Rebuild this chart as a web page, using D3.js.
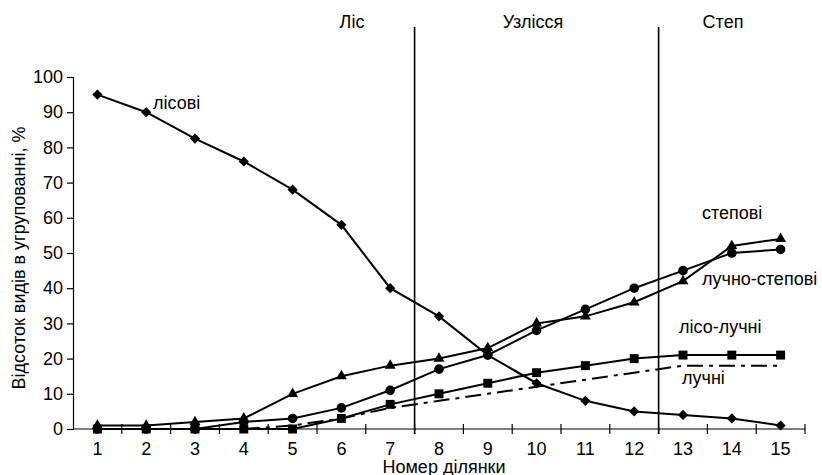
<!DOCTYPE html>
<html>
<head>
<meta charset="utf-8">
<title>Відсоток видів</title>
<style>
  body { margin: 0; background: #fff; }
  svg text { font-family: Arial, "Liberation Sans", sans-serif; fill: #000; }
</style>
</head>
<body>
<svg width="822" height="475"></svg>
<script src="https://d3js.org/d3.v7.min.js"></script>
<script>

// ділянки 1..15
var plots = [1, 2, 3, 4, 5, 6, 7, 8, 9, 10, 11, 12, 13, 14, 15];
var yTicks = [0, 10, 20, 30, 40, 50, 60, 70, 80, 90, 100];

// values, %
var lisovi      = [95, 90, 82.5, 76, 68, 58, 40, 32, 21, 13, 8, 5, 4, 3, 1];
var stepovi     = [0, 0, 0, 2, 3, 6, 11, 17, 21, 28, 34, 40, 45, 50, 51];
var luchnoStep  = [1, 1, 2, 3, 10, 15, 18, 20, 23, 30, 32, 36, 42, 52, 54];
var lisoLuchni  = [0, 0, 0, 0, 0, 3, 7, 10, 13, 16, 18, 20, 21, 21, 21];
var luchni      = [0, 0, 0, 0, 1, 3, 6, 8, 10, 12, 14, 16, 18, 18, 18];

// zones, split after plot 7 and after plot 12
var zones = ["Ліс", "Узлісся", "Степ"];
var zoneBreaks = [7, 12];

var svg = d3.select("svg"),
    m = {left: 73, right: 805, top: 77, bottom: 429},
    fs = 18;

var x = d3.scaleBand()
    .domain(plots)
    .range([m.left, m.right]);

var y = d3.scaleLinear()
    .domain([0, 100])
    .range([m.bottom, m.top]);

var cx = function(p) { return x(p) + x.bandwidth() / 2; };

// y axis
var gy = svg.append("g")
    .attr("transform", "translate(" + m.left + ",0)")
    .call(d3.axisLeft(y).tickValues(yTicks).tickSize(6).tickPadding(4));
gy.select(".domain").attr("stroke", "#000").attr("stroke-width", 1.2);
gy.selectAll(".tick line").attr("stroke", "#000").attr("stroke-width", 1.2);
gy.selectAll(".tick text").attr("font-size", fs).attr("font-family", null);

// x axis: ticks sit on band borders and cross the axis line
var gx = svg.append("g")
    .attr("transform", "translate(0," + m.bottom + ")");
gx.append("line")
    .attr("x1", m.left).attr("x2", m.right)
    .attr("stroke", "#000").attr("stroke-width", 1.2);
gx.selectAll(".bt")
    .data(plots)
  .enter().append("line")
    .attr("x1", function(p) { return x(p) + x.bandwidth(); })
    .attr("x2", function(p) { return x(p) + x.bandwidth(); })
    .attr("y1", -5).attr("y2", 5)
    .attr("stroke", "#000").attr("stroke-width", 1.2);
gx.selectAll(".lbl")
    .data(plots)
  .enter().append("text")
    .attr("x", cx)
    .attr("y", 26)
    .attr("text-anchor", "middle")
    .attr("font-size", fs)
    .text(function(p) { return p; });

// zone separators
svg.selectAll(".zb")
    .data(zoneBreaks)
  .enter().append("line")
    .attr("x1", function(p) { return x(p) + x.bandwidth(); })
    .attr("x2", function(p) { return x(p) + x.bandwidth(); })
    .attr("y1", 27).attr("y2", m.bottom + 5)
    .attr("stroke", "#000").attr("stroke-width", 1.6);

var zoneX = [352, 533, 723];
svg.selectAll(".zt")
    .data(zones)
  .enter().append("text")
    .attr("x", function(d, i) { return zoneX[i]; })
    .attr("y", 28)
    .attr("text-anchor", "middle")
    .attr("font-size", fs)
    .text(function(d) { return d; });

// series
var series = [
  {name: "лісові", values: lisovi, sym: "diamond", from: 0},
  {name: "лучні", values: luchni, sym: null, from: 3, dash: "16,6,4,6"},
  {name: "лісо-лучні", values: lisoLuchni, sym: "square", from: 0},
  {name: "степові", values: stepovi, sym: "circle", from: 0},
  {name: "лучно-степові", values: luchnoStep, sym: "triangle", from: 0}
];

series.forEach(function(s) {
  var line = d3.line()
      .x(function(d, i) { return cx(plots[i + s.from]); })
      .y(function(d) { return y(d); });
  svg.append("path")
      .attr("fill", "none")
      .attr("stroke", "#000")
      .attr("stroke-width", 2)
      .attr("stroke-dasharray", s.dash || null)
      .attr("d", line(s.values.slice(s.from)));
});

var symbols = {
  diamond:  {gen: d3.symbol(d3.symbolSquare, 52), rot: 45},
  square:   {gen: d3.symbol(d3.symbolSquare, 80), rot: 0},
  circle:   {gen: d3.symbol(d3.symbolCircle, 72), rot: 0},
  triangle: {gen: d3.symbol(d3.symbolTriangle, 52), rot: 0}
};

series.forEach(function(s) {
  if (!s.sym) return;
  var sym = symbols[s.sym];
  svg.selectAll(null)
      .data(s.values)
    .enter().append("path")
      .attr("d", sym.gen)
      .attr("fill", "#000")
      .attr("transform", function(d, i) {
        return "translate(" + cx(plots[i]) + "," + y(d) + ") rotate(" + sym.rot + ")";
      });
});

// series labels
var labels = [
  {t: "лісові", x: 153, y: 109},
  {t: "степові", x: 702, y: 219},
  {t: "лучно-степові", x: 702, y: 285},
  {t: "лісо-лучні", x: 679, y: 333},
  {t: "лучні", x: 682, y: 384}
];
svg.selectAll(".sl")
    .data(labels)
  .enter().append("text")
    .attr("x", function(d) { return d.x; })
    .attr("y", function(d) { return d.y; })
    .attr("font-size", fs)
    .text(function(d) { return d.t; });

// axis titles
svg.append("text")
    .attr("transform", "translate(25,258) rotate(-90)")
    .attr("text-anchor", "middle")
    .attr("font-size", fs)
    .text("Відсоток видів в угрупованні, %");

svg.append("text")
    .attr("x", (m.left + m.right) / 2 + 5)
    .attr("y", 473)
    .attr("text-anchor", "middle")
    .attr("font-size", fs)
    .text("Номер ділянки");

</script>
</body>
</html>
